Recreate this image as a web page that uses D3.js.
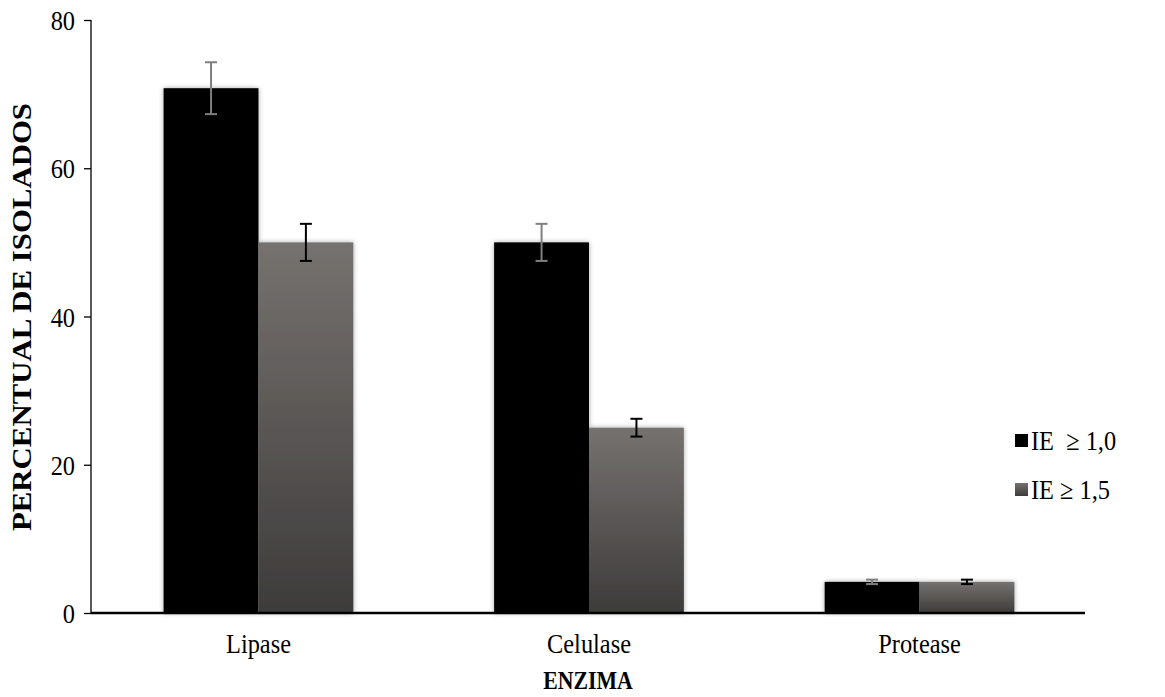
<!DOCTYPE html>
<meta charset='utf-8'>
<html>
  <head>
    <script src="https://d3js.org/d3.v7.min.js"></script>
    <style>
      body { margin: 0; background: #fff; }
      svg text { font-family: "Liberation Serif", "Times New Roman", Times, serif; fill: #000; }
    </style>
  </head>
  <body>
    <div id="chart"></div>
    <script>
        // data
        var enzimas = ["Lipase", "Celulase", "Protease"]
        var series = ["IE  \u2265 1,0", "IE \u2265 1,5"]
        var ie10 = [70.8, 50.0, 4.2]
        var ie15 = [50.0, 25.0, 4.2]
        var err10 = [3.5, 2.5, 0.3]
        var err15 = [2.5, 1.2, 0.3]
        var yTicks = [0, 20, 40, 60, 80]

        var W = 1165, H = 697
        var margin = { top: 20, right: 80, bottom: 84, left: 91 }
        var w = W - margin.left - margin.right
        var h = H - margin.top - margin.bottom
        var squeeze = 0.87 // the source text is narrow and tall

        var svg = d3.select('#chart').append('svg')
            .attr('width', W)
            .attr('height', H)

        var defs = svg.append('defs')
        var grad = defs.append('linearGradient')
            .attr('id', 'grayGrad')
            .attr('x1', 0).attr('y1', 0).attr('x2', 0).attr('y2', 1)
        grad.append('stop').attr('offset', '0%').attr('stop-color', '#76726f')
        grad.append('stop').attr('offset', '100%').attr('stop-color', '#3d3b3a')

        var shadow = defs.append('filter')
            .attr('id', 'shadow')
            .attr('x', '-10%').attr('y', '-10%').attr('width', '120%').attr('height', '120%')
        shadow.append('feDropShadow')
            .attr('dx', 0).attr('dy', 0)
            .attr('stdDeviation', 2.5)
            .attr('flood-color', '#000')
            .attr('flood-opacity', 0.35)

        var g = svg.append('g')
            .attr('transform', 'translate(' + margin.left + ',' + margin.top + ')')

        // Scales
        var x0 = d3.scaleBand().domain(enzimas).range([2, w]).paddingInner(0.426).paddingOuter(0.2136)
        var x1 = d3.scaleBand().domain([0, 1]).range([0, x0.bandwidth()])
        var y = d3.scaleLinear().domain([0, 80]).range([h, 0])

        var rows = enzimas.map(function (e, i) {
            return { name: e, vals: [ie10[i], ie15[i]], errs: [err10[i], err15[i]] }
        })

        var fills = ['#000000', 'url(#grayGrad)']
        var errColors = ['#7f7f7f', '#000000']

        var groups = g.selectAll('.grp')
            .data(rows)
            .enter().append('g')
            .attr('class', 'grp')
            .attr('transform', function (d) { return 'translate(' + x0(d.name) + ',0)' })

        groups.selectAll('rect')
            .data(function (d) { return d.vals.map(function (v, k) { return { k: k, v: v } }) })
            .enter().append('rect')
            .attr('x', function (d) { return x1(d.k) })
            .attr('y', function (d) { return y(d.v) })
            .attr('width', x1.bandwidth())
            .attr('height', function (d) { return h - y(d.v) })
            .attr('fill', function (d) { return fills[d.k] })
            .attr('filter', 'url(#shadow)')

        // error bars
        var eb = groups.selectAll('.err')
            .data(function (d) { return d.vals.map(function (v, k) { return { k: k, v: v, e: d.errs[k] } }) })
            .enter().append('g')
            .attr('class', 'err')
            .attr('stroke', function (d) { return errColors[d.k] })
            .attr('stroke-width', 2)
        eb.append('line')
            .attr('x1', function (d) { return x1(d.k) + x1.bandwidth() / 2 })
            .attr('x2', function (d) { return x1(d.k) + x1.bandwidth() / 2 })
            .attr('y1', function (d) { return y(d.v + d.e) })
            .attr('y2', function (d) { return y(d.v - d.e) })
        eb.selectAll('.cap')
            .data(function (d) { return [d.v + d.e, d.v - d.e].map(function (t) { return { k: d.k, t: t } }) })
            .enter().append('line')
            .attr('x1', function (d) { return x1(d.k) + x1.bandwidth() / 2 - 6 })
            .attr('x2', function (d) { return x1(d.k) + x1.bandwidth() / 2 + 6 })
            .attr('y1', function (d) { return y(d.t) })
            .attr('y2', function (d) { return y(d.t) })

        // Y axis
        var yAxis = d3.axisLeft(y).tickValues(yTicks).tickSize(7).tickPadding(9).tickFormat(d3.format('d'))
        var ya = g.append('g').call(yAxis)
        ya.attr('font-family', null).attr('font-size', null)
        ya.select('.domain').attr('stroke', '#000').attr('stroke-width', 1.3).attr('d', 'M0,0V' + h)
        ya.selectAll('.tick line').attr('stroke', '#000').attr('stroke-width', 1.3)
        ya.selectAll('.tick text')
            .style('font-size', '28px')
            .attr('dy', '0.34em')
            .attr('fill', '#000')

        // X axis
        var xAxis = d3.axisBottom(x0).tickSize(0).tickPadding(20)
        var xa = g.append('g').attr('transform', 'translate(0,' + h + ')').call(xAxis)
        xa.attr('font-family', null).attr('font-size', null)
        xa.select('.domain').attr('stroke', '#000').attr('stroke-width', 2.5).attr('d', 'M0,0H' + w)
        xa.selectAll('.tick text')
            .style('font-size', '28px')
            .attr('fill', '#000')

        // axis titles
        svg.append('text')
            .attr('class', 'sq')
            .attr('x', 588)
            .attr('y', 689)
            .attr('text-anchor', 'middle')
            .style('font-size', '25px')
            .style('font-weight', 'bold')
            .text('ENZIMA')

        svg.append('text')
            .attr('transform', 'translate(31,317) rotate(-90)')
            .attr('text-anchor', 'middle')
            .attr('textLength', 428)
            .attr('lengthAdjust', 'spacingAndGlyphs')
            .style('font-size', '27px')
            .style('font-weight', 'bold')
            .text('PERCENTUAL DE ISOLADOS')

        // legend
        var legend = svg.append('g').attr('transform', 'translate(1015,434)')
        var li = legend.selectAll('.li')
            .data(series)
            .enter().append('g')
            .attr('transform', function (d, i) { return 'translate(0,' + (i * 49) + ')' })
        li.append('rect')
            .attr('width', 13).attr('height', 13)
            .attr('fill', function (d, i) { return fills[i] })
        li.append('text')
            .attr('class', 'sq')
            .attr('x', 16)
            .attr('y', 16)
            .style('font-size', '28px')
            .style('white-space', 'pre')
            .text(function (d) { return d })

        // narrow the horizontal text like in the source
        svg.selectAll('.tick text, .sq').each(function () {
            var len = this.getComputedTextLength()
            d3.select(this).attr('textLength', len * squeeze).attr('lengthAdjust', 'spacingAndGlyphs')
        })
    </script>
  </body>
</html>
